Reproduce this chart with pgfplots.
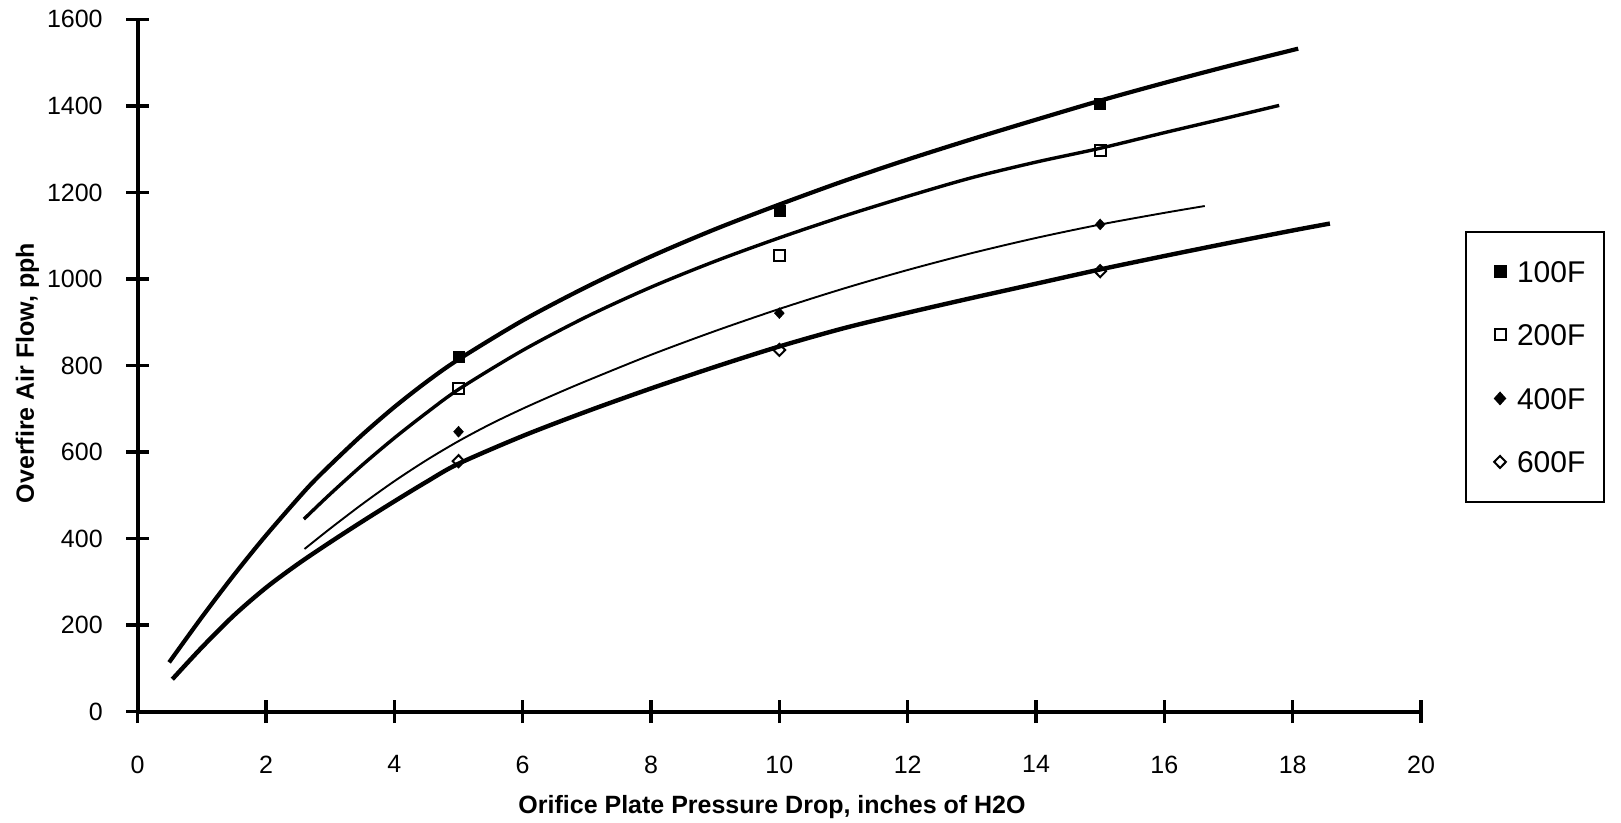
\documentclass[border=0pt]{standalone}
\usepackage{fontspec}
\setmainfont{Liberation Sans}
\usepackage{pgfplots}
\pgfplotsset{compat=1.18}
\pgfplotsset{legimg/.style={legend image code/.code={\path[draw=none,fill=none] (-15pt,0pt) -- (17pt,0pt);
  \draw[##1, only marks] plot coordinates {(0pt,0pt)};}}}
\begin{document}
\begin{tikzpicture}
\useasboundingbox (-137.7pt,-110.3pt) rectangle (1483.3pt,711.7pt);
\begin{axis}[
  at={(0pt,0pt)}, anchor=south west,
  width=1283.3pt, height=692.4pt, scale only axis,
  xmin=0, xmax=20, ymin=0, ymax=1600,
  axis lines*=left,
  axis line style={line width=4pt},
  xtick={0,2,...,20}, ytick={0,200,...,1600},
  tick align=center, major tick length=23pt,
  tick style={line width=3.5pt, black},
  /pgf/number format/assume math mode=true,
  /pgf/number format/1000 sep={},
  ticklabel style={font=\fontsize{25}{25}\selectfont},
  xticklabel shift=29pt,
  yticklabel shift=20pt,
  xlabel={Orifice Plate Pressure Drop, inches of H2O},
  ylabel={Overfire Air Flow, pph},
  xlabel style={font=\bfseries\fontsize{25}{25}\selectfont, at={(axis description cs:0.4943,-0.1375)}, anchor=center},
  ylabel style={font=\bfseries\fontsize{25}{25}\selectfont, at={(axis description cs:-0.0859,0.489)}, anchor=center},
  clip=false,
  legend cell align=left,
  legend style={at={(axis description cs:1.0343,0.6947)}, anchor=north west,
    draw=black, line width=2pt, font=\fontsize{30}{30}\selectfont,
    inner xsep=19pt, inner ysep=29pt, row sep=42pt,
    nodes={inner xsep=0pt, inner ysep=0pt, text height=21.5pt, text depth=0pt}},
]
% trend curves
\addplot[forget plot, black, line width=4.2pt, smooth] coordinates {
(0.49,114) (1,218.5) (1.5,316) (2,407.5) (2.63,514.5) (3,570) (3.5,640) (4,704) (4.5,762) (5,814)
(6,904) (7,982) (8,1052) (9,1115) (10,1172) (11,1226) (12,1276) (13,1323) (14,1368) (15,1412)
(16,1453) (17,1492) (18,1529) (18.06,1531)};
\addplot[forget plot, black, line width=3.4pt, smooth] coordinates {
(2.59,445) (3,503) (3.5,570) (4,632.5) (4.5,690.5) (5.02,746.7) (6,835) (7,913) (8,981) (9,1041)
(10,1095) (11,1145) (12,1191) (13,1234) (14,1270) (15,1302) (16,1338) (17,1373) (17.79,1401)};
\addplot[forget plot, black, line width=1.9pt, smooth] coordinates {
(2.6,376) (3,423.2) (3.5,479.7) (4,532.7) (4.5,581.2) (5,625.2) (5.5,664.7) (6,700.2) (6.5,733.2)
(7,764.7) (8,824.7) (9,879.7) (10,930.7) (11,977.7) (12,1020.7) (13,1059.7) (14,1094.7) (15,1125.7)
(16,1152.7) (16.63,1168.5)};
\addplot[forget plot, black, line width=4.4pt, smooth] coordinates {
(0.54,75) (1,148.6) (1.5,222.6) (2,286.6) (2.5,341.6) (3,391.6) (3.5,439.6) (4,486.1) (4.5,531.1)
(5,573.1) (6,637.1) (7,694) (8,747) (9,797) (10,844) (11,886) (12,922) (13,956) (14,989) (15,1022)
(16,1053) (17,1083) (18,1112) (18.58,1128)};
% data points
\addplot[only marks, legimg, mark=square*, mark size=5.5pt, black] coordinates {(5,820) (10,1158) (15,1406)};
\addlegendentry{100F}
\addplot[only marks, legimg, mark=square, mark size=5.5pt, black, mark options={line width=2pt, fill=white}] coordinates {(5,747) (10,1055) (15,1296)};
\addlegendentry{200F}
\addplot[only marks, legimg, mark=diamond*, mark size=5.5pt, black, mark options={xscale=1.2}] coordinates {(5,647) (10,921) (15,1126)};
\addlegendentry{400F}
\addplot[only marks, legimg, mark=diamond, mark size=6pt, black, mark options={line width=2pt, xscale=1.3, fill=white}] coordinates {(5,579) (10,836) (15,1018)};
\addlegendentry{600F}
\end{axis}
\end{tikzpicture}
\end{document}
